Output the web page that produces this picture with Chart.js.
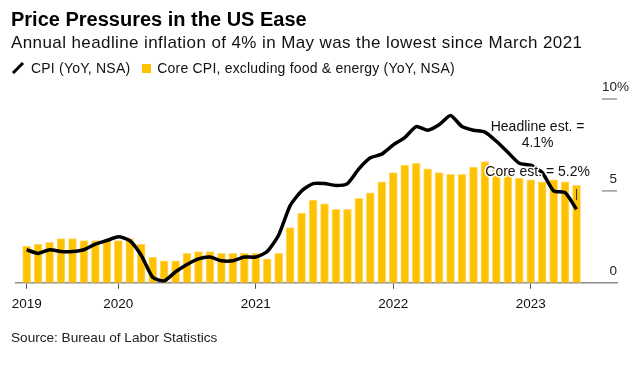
<!DOCTYPE html>
<html>
<head>
<meta charset="utf-8">
<script src="https://cdn.jsdelivr.net/npm/chart.js@4"></script>
<style>
  body { margin: 0; background: #fff; }
  #wrap { position: relative; width: 638px; height: 365px; font-family: "Liberation Sans", Arial, sans-serif; }
  canvas { position: absolute; left: 0; top: 0; }
  .txt { position: absolute; white-space: nowrap; line-height: 1; color: #111; }
  #title { left: 11px; top: 9px; font-size: 20px; font-weight: bold; color: #000; }
  #sub { left: 11px; top: 34px; font-size: 17px; letter-spacing: 0.4px; }
  #leg { left: 11px; top: 61px; font-size: 14px; letter-spacing: 0.2px; }
  #src { left: 11px; top: 331px; font-size: 13.6px; color: #222; }
  .sw { display: inline-block; width: 9px; height: 9px; background: #ffc200; margin: 0 6px 0 12px; }
</style>
</head>
<body>
<div id="wrap">
  <canvas id="chart" width="638" height="365"></canvas>
  <div class="txt" id="title">Price Pressures in the US Ease</div>
  <div class="txt" id="sub">Annual headline inflation of 4% in May was the lowest since March 2021</div>
  <div class="txt" id="leg"><svg width="14" height="12" style="vertical-align:-1px;margin-right:6px"><line x1="2" y1="11" x2="12" y2="1" stroke="#000" stroke-width="3"/></svg>CPI (YoY, NSA)<span class="sw"></span>Core CPI, excluding food &amp; energy (YoY, NSA)</div>
  <div class="txt" id="src">Source: Bureau of Labor Statistics</div>
</div>
<script>
const months = [
  "2019-05","2019-06","2019-07","2019-08","2019-09","2019-10","2019-11","2019-12",
  "2020-01","2020-02","2020-03","2020-04","2020-05","2020-06","2020-07","2020-08","2020-09","2020-10","2020-11","2020-12",
  "2021-01","2021-02","2021-03","2021-04","2021-05","2021-06","2021-07","2021-08","2021-09","2021-10","2021-11","2021-12",
  "2022-01","2022-02","2022-03","2022-04","2022-05","2022-06","2022-07","2022-08","2022-09","2022-10","2022-11","2022-12",
  "2023-01","2023-02","2023-03","2023-04","2023-05"
];
const cpi = [
  1.8, 1.6, 1.8, 1.7, 1.7, 1.8, 2.1, 2.3,
  2.5, 2.3, 1.5, 0.3, 0.1, 0.6, 1.0, 1.3, 1.4, 1.2, 1.2, 1.4,
  1.4, 1.7, 2.6, 4.2, 5.0, 5.4, 5.4, 5.3, 5.4, 6.2, 6.8, 7.0,
  7.5, 7.9, 8.5, 8.3, 8.6, 9.1, 8.5, 8.3, 8.2, 7.7, 7.1, 6.5,
  6.4, 6.0, 5.0, 4.9, 4.0
];
const coreCpi = [
  2.0, 2.1, 2.2, 2.4, 2.4, 2.3, 2.3, 2.3,
  2.3, 2.4, 2.1, 1.4, 1.2, 1.2, 1.6, 1.7, 1.7, 1.6, 1.6, 1.6,
  1.6, 1.3, 1.6, 3.0, 3.8, 4.5, 4.3, 4.0, 4.0, 4.6, 4.9, 5.5,
  6.0, 6.4, 6.5, 6.2, 6.0, 5.9, 5.9, 6.3, 6.6, 6.3, 6.0, 5.7,
  5.6, 5.5, 5.6, 5.5, 5.3
];
const yTicks = [0, 5, 10];
const estLabels = ["Headline est. =", "4.1%", "Core est. = 5.2%"];
const estAt = [8.45, 7.6, 6.0];

// year ticks: first point and every January
const yearIdx = [];
const yearLabels = [];
months.forEach((m, i) => {
  if (i === 0 || m.endsWith("-01")) {
    yearIdx.push(i);
    yearLabels.push(m.slice(0, 4));
  }
});

const yLabelPlugin = {
  id: "yLabels",
  afterDraw(chart) {
    const ctx = chart.ctx;
    const y = chart.scales.y;
    const right = chart.chartArea.right;
    ctx.save();
    ctx.font = "13.5px 'Liberation Sans', Arial, sans-serif";
    ctx.fillStyle = "#222";
    ctx.textBaseline = "middle";
    yTicks.forEach(v => {
      const py = y.getPixelForValue(v);
      if (v > 0) {
        ctx.strokeStyle = "#999";
        ctx.lineWidth = 1.5;
        ctx.beginPath();
        ctx.moveTo(right - 15, py);
        ctx.lineTo(right, py);
        ctx.stroke();
      }
      ctx.textAlign = "right";
      ctx.fillText(String(v), right, py - 12);
      if (v === yTicks[yTicks.length - 1]) {
        ctx.textAlign = "left";
        ctx.fillText("%", right, py - 12);
      }
    });
    ctx.restore();
  }
};

const estPlugin = {
  id: "estimates",
  afterDatasetsDraw(chart) {
    const ctx = chart.ctx;
    const x = chart.scales.x, y = chart.scales.y;
    const last = months.length - 1;
    ctx.save();
    // small leader mark on last bar
    ctx.strokeStyle = "#333";
    ctx.lineWidth = 1;
    ctx.beginPath();
    ctx.moveTo(x.getPixelForValue(last), y.getPixelForValue(5.1));
    ctx.lineTo(x.getPixelForValue(last), y.getPixelForValue(4.5));
    ctx.stroke();
    ctx.font = "14px 'Liberation Sans', Arial, sans-serif";
    ctx.textAlign = "center";
    ctx.textBaseline = "middle";
    ctx.lineJoin = "round";
    estLabels.forEach((t, i) => {
      const px = x.getPixelForValue(last - 3.4);
      const py = y.getPixelForValue(estAt[i]);
      ctx.strokeStyle = "#fff";
      ctx.lineWidth = 3;
      ctx.strokeText(t, px, py);
      ctx.fillStyle = "#111";
      ctx.fillText(t, px, py);
    });
    ctx.restore();
  }
};

new Chart(document.getElementById("chart"), {
  type: "bar",
  data: {
    datasets: [
      {
        type: "line",
        label: "CPI (YoY, NSA)",
        data: cpi.map((v, i) => ({ x: i, y: v })),
        borderColor: "#000",
        borderWidth: 3.5,
        pointRadius: 0,
        tension: 0.2,
        order: 0
      },
      {
        label: "Core CPI, excluding food & energy (YoY, NSA)",
        data: coreCpi.map((v, i) => ({ x: i, y: v })),
        backgroundColor: "#ffc200",
        borderColor: "#ffdc72",
        borderWidth: 1,
        borderSkipped: "bottom",
        barThickness: 8,
        order: 1
      }
    ]
  },
  options: {
    responsive: false,
    animation: false,
    devicePixelRatio: 1,
    layout: { padding: { left: 16, right: 21, top: 99, bottom: 46 } },
    plugins: { legend: { display: false }, tooltip: { enabled: false } },
    scales: {
      x: {
        type: "linear",
        offset: false,
        min: -0.93,
        max: 51.53,
        border: { color: "#8c8c8c", width: 1.5 },
        grid: { offset: false, drawOnChartArea: false, drawTicks: true, tickLength: 6, color: "#555", lineWidth: 1 },
        afterBuildTicks: s => { s.ticks = yearIdx.map(v => ({ value: v })); },
        ticks: {
          maxRotation: 0,
          autoSkip: false,
          padding: 7,
          color: "#111",
          font: { family: "'Liberation Sans', Arial, sans-serif", size: 13.5 },
          callback: (v, i) => yearLabels[i]
        }
      },
      y: {
        display: false,
        min: 0,
        max: 10
      }
    }
  },
  plugins: [yLabelPlugin, estPlugin]
});
</script>
</body>
</html>
